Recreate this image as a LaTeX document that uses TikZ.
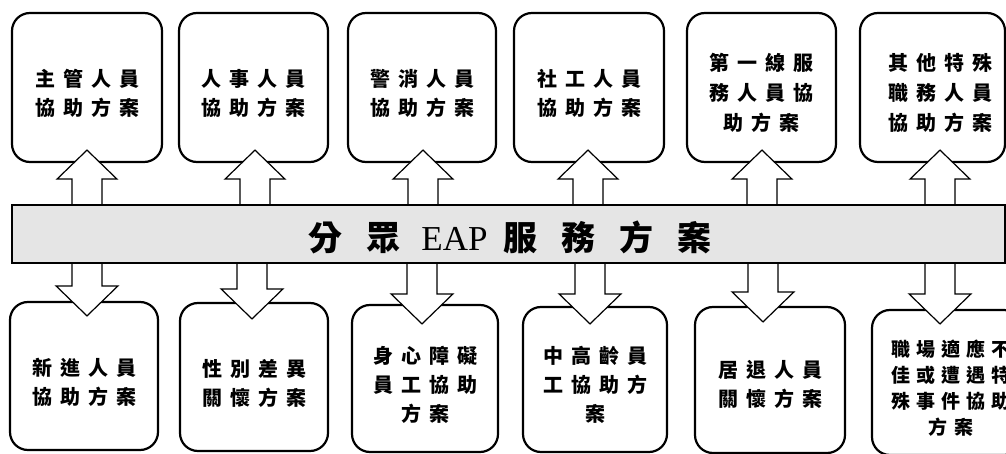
\documentclass[tikz,border=0pt]{standalone}
\usepackage{fontspec}
\setmainfont{Liberation Serif}
\newfontfamily\cjk{Noto Sans CJK TC}
\newfontfamily\cjkls{Noto Sans CJK TC}[LetterSpace=40]
\newfontfamily\cjklss{Noto Sans CJK TC}[LetterSpace=32]
\usetikzlibrary{calc}
\tikzset{
  box/.style={draw, line width=2.2pt, rounded corners=18pt, fill=white, inner sep=0pt},
  boxtext/.style={align=center, inner sep=0pt, font=\cjkls\bfseries\fontsize{20}{29}\selectfont},
  blk/.style={draw, line width=1.2pt, fill=white, line join=miter},
  bannerbox/.style={draw, line width=2.2pt, fill=black!10, inner sep=0pt},
}
\newcommand\uparrowblk[2]{%
  \coordinate (ax) at (#1,0);
  \draw[blk] ($(ax |- banner.north)+(-15,2)$) -- ($(ax |- #2.south)+(-15,16)$)
    -- ($(ax |- #2.south)+(-30,16)$) -- ($(ax |- #2.south)+(0,-13)$)
    -- ($(ax |- #2.south)+(30,16)$) -- ($(ax |- #2.south)+(15,16)$)
    -- ($(ax |- banner.north)+(15,2)$);
}
\newcommand\downarrowblk[3]{%
  \coordinate (ax) at (#1,0);
  \draw[blk] ($(ax |- banner.south)+(-15,-2)$) -- ($(ax |- #2.north)+(-15,#3-30)$)
    -- ($(ax |- #2.north)+(-31,#3-30)$) -- ($(ax |- #2.north)+(0,#3)$)
    -- ($(ax |- #2.north)+(31,#3-30)$) -- ($(ax |- #2.north)+(15,#3-30)$)
    -- ($(ax |- banner.south)+(15,-2)$);
}
\begin{document}
\begin{tikzpicture}[x=1pt,y=-1pt]
\useasboundingbox (0,0) rectangle (1006,454);
\clip (0,0) rectangle (1006,454);

% top boxes
\node[box, minimum width=150pt, minimum height=149pt] (t1) at (87,87.5) {};
\node[box, minimum width=149pt, minimum height=149pt] (t2) at (253.5,87.5) {};
\node[box, minimum width=148pt, minimum height=149pt] (t3) at (422,87.5) {};
\node[box, minimum width=150pt, minimum height=149pt] (t4) at (589,87.5) {};
\node[box, minimum width=149pt, minimum height=149pt] (t5) at (761.5,87.5) {};
\node[box, minimum width=145pt, minimum height=149pt] (t6) at (932.5,87.5) {};

% bottom boxes
\node[box, minimum width=148pt, minimum height=148pt] (b1) at (84,376) {};
\node[box, minimum width=148pt, minimum height=148pt] (b2) at (254,377) {};
\node[box, minimum width=146pt, minimum height=147pt] (b3) at (425,378.5) {};
\node[box, minimum width=144pt, minimum height=145pt] (b4) at (595,379.5) {};
\node[box, minimum width=150pt, minimum height=146pt] (b5) at (770,380) {};
\node[box, minimum width=150pt, minimum height=145pt] (b6) at (947,382.5) {};

% banner reference node
\path (508.5,234) node[minimum width=993pt, minimum height=58pt, inner sep=0pt] (banner) {};

% block arrows
\uparrowblk{87}{t1}
\uparrowblk{255}{t2}
\uparrowblk{423}{t3}
\uparrowblk{588}{t4}
\uparrowblk{762}{t5}
\uparrowblk{940}{t6}
\downarrowblk{87}{b1}{15}
\downarrowblk{252}{b2}{17}
\downarrowblk{422}{b3}{20}
\downarrowblk{590}{b4}{18}
\downarrowblk{763}{b5}{16}
\downarrowblk{940}{b6}{15}

\node[bannerbox, minimum width=993pt, minimum height=58pt] (bannerdraw) at (banner.center) {};
\node[inner sep=0pt, font=\cjk\bfseries\fontsize{34}{34}\selectfont] (btext) at (510,237)
  {分\hspace{24pt}眾\hspace{21pt}{\rmfamily\mdseries\fontsize{35}{35}\selectfont EAP}\hspace{16pt}服\hspace{24pt}務\hspace{24pt}方\hspace{24pt}案};

% texts
\node[boxtext] (t1l) at ($(t1.center)+(0,6)$) {主管人員\\協助方案};
\node[boxtext] (t2l) at ($(t2.center)+(0,6)$) {人事人員\\協助方案};
\node[boxtext] (t3l) at ($(t3.center)+(0,6)$) {警消人員\\協助方案};
\node[boxtext] (t4l) at ($(t4.center)+(0,6)$) {社工人員\\協助方案};
\node[boxtext, font=\cjkls\bfseries\fontsize{20}{30}\selectfont] (t5l) at ($(t5.center)+(0,5)$) {第一線服\\務人員協\\助方案};
\node[boxtext, font=\cjkls\bfseries\fontsize{20}{30}\selectfont] (t6l) at ($(t6.center)+(8,5)$) {其他特殊\\職務人員\\協助方案};
\node[boxtext] (b1l) at ($(b1.center)+(0,6)$) {新進人員\\協助方案};
\node[boxtext] (b2l) at ($(b2.center)+(0,6)$) {性別差異\\關懷方案};
\node[boxtext] (b3l) at ($(b3.center)+(0,6)$) {身心障礙\\員工協助\\方案};
\node[boxtext] (b4l) at ($(b4.center)+(0,5)$) {中高齡員\\工協助方\\案};
\node[boxtext] (b5l) at ($(b5.center)+(0,4)$) {居退人員\\關懷方案};
\node[boxtext, font=\cjklss\bfseries\fontsize{19}{26}\selectfont] (b6l) at ($(b6.center)+(4,6)$) {職場適應不\\佳或遭遇特\\殊事件協助\\方案};
\end{tikzpicture}
\end{document}
